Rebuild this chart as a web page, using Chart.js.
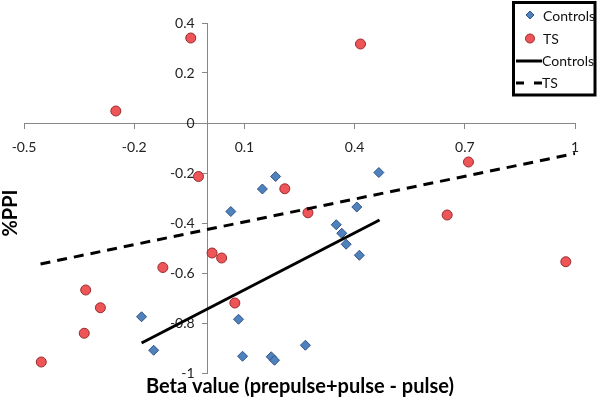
<!DOCTYPE html>
<html>
<head>
<meta charset="utf-8">
<script src="https://cdn.jsdelivr.net/npm/chart.js@4/dist/chart.umd.min.js"></script>
<style>
  html, body { margin: 0; padding: 0; background: #fff; }
  #wrap { width: 600px; height: 403px; position: relative; }
</style>
</head>
<body>
<div id="wrap"><canvas id="ppiChart"></canvas></div>
<script>

// ==========================================
// Data
// ==========================================

const controlsX = [0.185, 0.149, 0.466, 0.063, 0.406, 0.350, 0.365, 0.377, 0.413, -0.180, -0.147, 0.084, 0.095, 0.173, 0.182, 0.266];
const controlsY = [-0.214, -0.264, -0.198, -0.354, -0.336, -0.407, -0.441, -0.485, -0.529, -0.775, -0.909, -0.785, -0.933, -0.935, -0.949, -0.889];

const tsX = [-0.046, -0.250, 0.416, -0.025, 0.210, 0.710, 0.652, 0.975, 0.273, 0.012, 0.038, -0.122, -0.332, -0.292, 0.074, -0.336, -0.453];
const tsY = [0.340, 0.048, 0.316, -0.214, -0.263, -0.156, -0.368, -0.555, -0.359, -0.520, -0.540, -0.578, -0.668, -0.739, -0.720, -0.841, -0.956];

// trend lines (start / end)
const controlsFitX = [-0.180, 0.468];
const controlsFitY = [-0.880, -0.388];
const tsFitX = [-0.455, 1.0];
const tsFitY = [-0.564, -0.122];

const xTicks = { min: -0.5, max: 1, step: 0.3 };
const yTicks = { min: -1, max: 0.4, step: 0.2 };

const xTitle = "Beta value (prepulse+pulse - pulse)";
const yTitle = "%PPI";


function toPoints(xs, ys) {
    return xs.map((x, i) => ({ x: x, y: ys[i] }));
}

function tickText(value) {
    return String(Math.round(value * 10) / 10);
}


// ==========================================
// Legend box (top right, framed)
// ==========================================

const boxLegend = {
    id: "boxLegend",
    afterDraw(chart) {
        const ctx = chart.ctx;
        const ds = chart.data.datasets;
        ctx.save();

        ctx.lineWidth = 3;
        ctx.strokeStyle = "#000";
        ctx.strokeRect(513.5, 2.5, 81.5, 92.5);

        // Controls marker
        ctx.lineWidth = 1;
        ctx.fillStyle = ds[0].backgroundColor;
        ctx.strokeStyle = ds[0].borderColor;
        ctx.beginPath();
        ctx.moveTo(530, 11);
        ctx.lineTo(534, 15);
        ctx.lineTo(530, 19);
        ctx.lineTo(526, 15);
        ctx.closePath();
        ctx.fill();
        ctx.stroke();

        // TS marker
        ctx.fillStyle = ds[1].backgroundColor;
        ctx.strokeStyle = ds[1].borderColor;
        ctx.beginPath();
        ctx.arc(530, 38.5, 4.5, 0, Math.PI * 2);
        ctx.fill();
        ctx.stroke();

        // line samples
        ctx.strokeStyle = "#000";
        ctx.lineWidth = 3;
        ctx.beginPath();
        ctx.moveTo(516, 61);
        ctx.lineTo(542, 61);
        ctx.stroke();

        ctx.setLineDash([8, 10]);
        ctx.beginPath();
        ctx.moveTo(516, 83);
        ctx.lineTo(542, 83);
        ctx.stroke();
        ctx.setLineDash([]);

        ctx.font = "14px Lato";
        ctx.fillStyle = "#111";
        ctx.textBaseline = "middle";
        ctx.textAlign = "left";
        ctx.fillText(ds[0].label, 543, 16);
        ctx.fillText(ds[1].label, 543, 39);
        ctx.fillText(ds[2].label, 542, 61);
        ctx.fillText(ds[3].label, 542, 83);

        ctx.restore();
    }
};


// ==========================================
// Chart
// ==========================================

const axisGrey = "#878787";

// the y labels hang a little left of the axis line
const yLabelX = -0.0354;

new Chart(document.getElementById("ppiChart"), {

    type: "scatter",

    data: {
        datasets: [
            {
                label: "Controls",
                data: toPoints(controlsX, controlsY),
                pointStyle: "rectRot",
                pointRadius: 5,
                backgroundColor: "#4F81BD",
                borderColor: "#2F5487",
                borderWidth: 1,
                order: 2
            },
            {
                label: "TS",
                data: toPoints(tsX, tsY),
                pointStyle: "circle",
                pointRadius: 5,
                backgroundColor: "#EE5558",
                borderColor: "#9A2A2A",
                borderWidth: 1,
                order: 1
            },
            {
                label: "Controls",
                data: toPoints(controlsFitX, controlsFitY),
                showLine: true,
                pointRadius: 0,
                borderColor: "#000",
                borderWidth: 3,
                order: 0
            },
            {
                label: "TS",
                data: toPoints(tsFitX, tsFitY),
                showLine: true,
                pointRadius: 0,
                borderColor: "#000",
                borderWidth: 3,
                borderDash: [10, 7],
                order: 0
            }
        ]
    },

    options: {

        responsive: true,
        maintainAspectRatio: false,
        animation: false,

        layout: {
            padding: { top: 23, right: 0, left: 0, bottom: 0 }
        },

        scales: {
            x: {
                type: "linear",
                position: { y: 0 },
                min: xTicks.min,
                max: xTicks.max,
                afterFit: scale => { scale.height = 0; },
                border: { color: axisGrey, width: 1 },
                grid: {
                    drawOnChartArea: false,
                    drawTicks: true,
                    tickLength: 5,
                    color: axisGrey
                },
                ticks: {
                    stepSize: xTicks.step,
                    padding: 11,
                    maxRotation: 0,
                    color: "#222",
                    font: { family: "Lato", size: 14 },
                    callback: tickText
                }
            },
            // axis line + tick marks
            y: {
                type: "linear",
                position: { x: 0 },
                min: yTicks.min,
                max: yTicks.max,
                afterFit: scale => { scale.width = 0; },
                border: { color: axisGrey, width: 1 },
                grid: {
                    drawOnChartArea: false,
                    drawTicks: true,
                    tickLength: 5,
                    color: axisGrey
                },
                ticks: {
                    stepSize: yTicks.step,
                    display: false
                }
            },
            // tick labels only
            yLabels: {
                type: "linear",
                position: { x: yLabelX },
                min: yTicks.min,
                max: yTicks.max,
                afterFit: scale => { scale.width = 0; },
                border: { display: false },
                grid: { display: false },
                ticks: {
                    stepSize: yTicks.step,
                    color: "#222",
                    font: { family: "Lato", size: 14 },
                    callback: tickText
                }
            },
            // empty right axis, only keeps a margin on the right
            yPad: {
                type: "linear",
                position: "right",
                display: true,
                afterFit: scale => { scale.width = 25; },
                grid: { display: false },
                border: { display: false },
                ticks: { display: false }
            }
        },

        plugins: {
            legend: { display: false },
            tooltip: { enabled: false },
            title: {
                display: true,
                position: "bottom",
                text: xTitle,
                color: "#000",
                font: { family: "Lato", size: 20, weight: "bold", lineHeight: 1.1 },
                padding: { top: 3, bottom: 5 }
            },
            subtitle: {
                display: true,
                position: "left",
                text: yTitle,
                color: "#000",
                font: { family: "Lato", size: 20, weight: "bold", lineHeight: 1.1 },
                padding: { top: 0, bottom: 2 }
            }
        }
    },

    plugins: [boxLegend]

});

</script>
</body>
</html>
